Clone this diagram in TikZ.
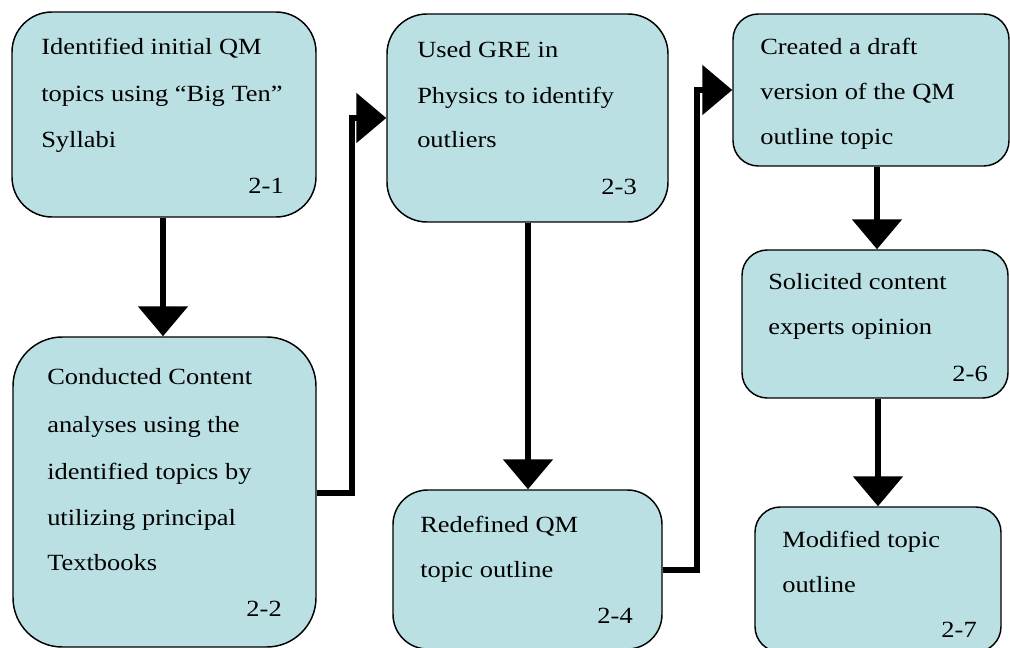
\documentclass[tikz,border=0pt]{standalone}
\usepackage{fontspec}
\setmainfont{Liberation Serif}[FakeStretch=1.14]
\usetikzlibrary{arrows.meta,fit}

\definecolor{boxfill}{RGB}{186,224,228}

\tikzset{
  box/.style={draw=black, line width=1.1pt, fill=boxfill, inner sep=0pt},
  txt/.style={anchor=base west, inner sep=0pt, font=\fontsize{17.4pt}{20pt}\selectfont},
  tag/.style={anchor=base east, inner sep=0pt, font=\fontsize{17.4pt}{20pt}\selectfont},
  flow/.style={line width=4.3pt, -{Triangle[width=36.75pt,length=22.5pt]}}
}

\begin{document}
\begin{tikzpicture}[x=0.75pt, y=-0.75pt]
\useasboundingbox (0,0) rectangle (1010,648);
\clip (0,0) rectangle (1010,648);

% boxes
\node[box, rounded corners=30pt, fit={(12,12) (316,217)}] (b1) {};
\node[box, rounded corners=37pt, fit={(13,337) (316,647)}] (b2) {};
\node[box, rounded corners=30pt, fit={(387,14) (668,222)}] (b3) {};
\node[box, rounded corners=26pt, fit={(393,490) (662,649)}] (b4) {};
\node[box, rounded corners=19pt, fit={(733,14) (1009,166)}] (b5) {};
\node[box, rounded corners=19pt, fit={(742,250) (1008,398)}] (b6) {};
\node[box, rounded corners=19pt, fit={(755,507) (1001,652)}] (b7) {};

% texts of step 2-1
\node[txt] (l11) at (41,55) {Identified initial QM};
\node[txt] (l12) at (41,102) {topics using “Big Ten”};
\node[txt] (l13) at (41,148) {Syllabi};
\node[tag] (n1) at (284,194) {2-1};

% texts of step 2-2
\node[txt] (l21) at (47,385) {Conducted Content};
\node[txt] (l22) at (47,432) {analyses using the};
\node[txt] (l23) at (47,479) {identified topics by};
\node[txt] (l24) at (47,525) {utilizing principal};
\node[txt] (l25) at (47,570) {Textbooks};
\node[tag] (n2) at (282,616) {2-2};

% texts of step 2-3
\node[txt] (l31) at (417,58) {Used GRE in};
\node[txt] (l32) at (417,104) {Physics to identify};
\node[txt] (l33) at (417,148) {outliers};
\node[tag] (n3) at (637,195) {2-3};

% texts of step 2-4
\node[txt] (l41) at (420,532) {Redefined QM};
\node[txt] (l42) at (420,577) {topic outline};
\node[tag] (n4) at (633,623) {2-4};

% texts of step 2-5
\node[txt] (l51) at (760,55) {Created a draft};
\node[txt] (l52) at (760,100) {version of the QM};
\node[txt] (l53) at (760,145) {outline topic};

% texts of step 2-6
\node[txt] (l61) at (768,290) {Solicited content};
\node[txt] (l62) at (768,335) {experts opinion};
\node[tag] (n6) at (988,382) {2-6};

% texts of step 2-7
\node[txt] (l71) at (782,547) {Modified topic};
\node[txt] (l72) at (782,592) {outline};
\node[tag] (n7) at (977,637) {2-7};

% vertical connectors
\coordinate (k1) at (163,0);
\coordinate (k3) at (528,0);
\coordinate (k5) at (877,0);
\coordinate (k6) at (878,0);
\draw[flow] (b1.south -| k1) -- (b2.north -| k1);
\draw[flow] (b3.south -| k3) -- (b4.north -| k3);
\draw[flow] (b5.south -| k5) -- (b6.north -| k5);
\draw[flow] (b6.south -| k6) -- (b7.north -| k6);

% connectors that climb to the next column
\coordinate (r2) at (316,493);
\coordinate (u2) at (352,118);
\draw[flow] (b2.east |- r2) -| (u2) -- (b3.west |- u2);

\coordinate (r4) at (662,570);
\coordinate (u4) at (697,90);
\draw[flow] (b4.east |- r4) -| (u4) -- (b5.west |- u4);
\end{tikzpicture}
\end{document}
